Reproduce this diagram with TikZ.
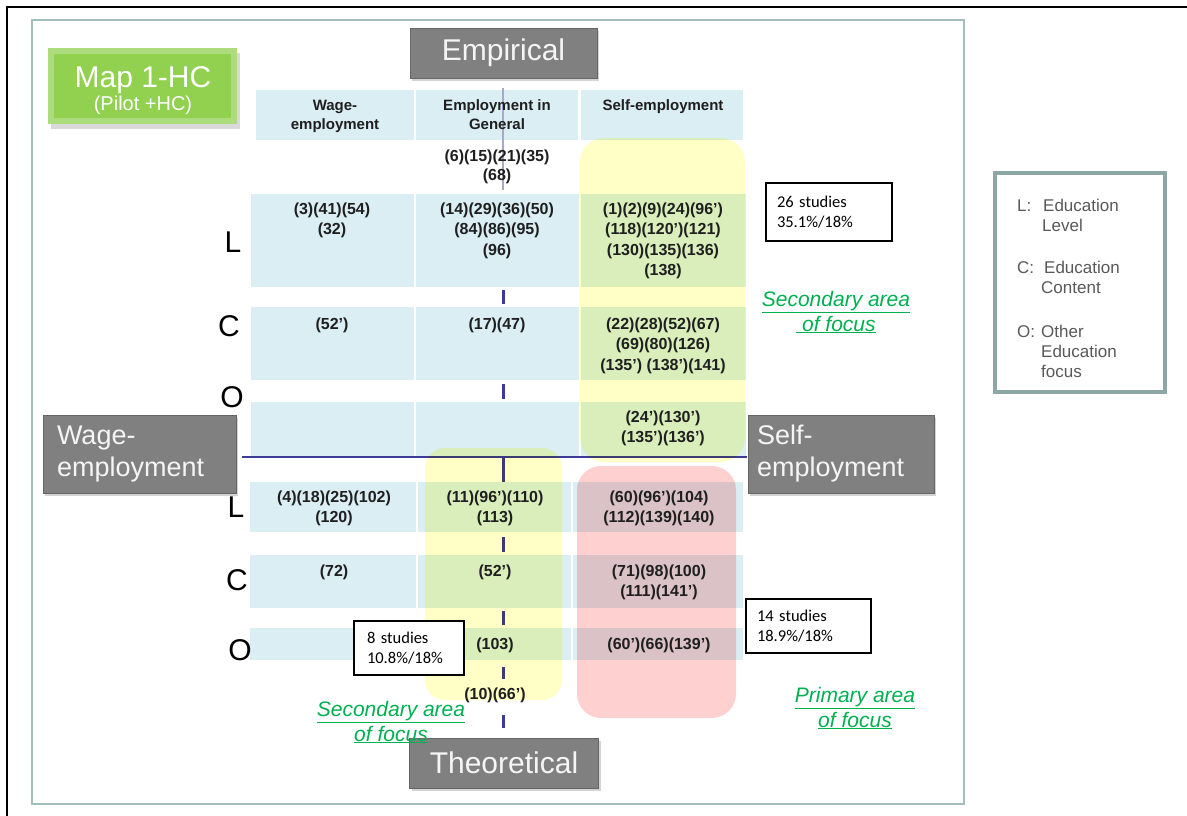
\documentclass[tikz,border=0pt]{standalone}
\usepackage{fontspec}
\setmainfont{Liberation Sans}
\newfontfamily\calib{Carlito}
\usetikzlibrary{shadows}
\definecolor{cellblue}{HTML}{DAEEF3}
\definecolor{yel}{HTML}{FFFFC6}
\definecolor{pinkc}{HTML}{FFD0D0}
\definecolor{boxgray}{HTML}{808080}
\definecolor{focusgreen}{HTML}{00B050}
\definecolor{framec}{HTML}{A3BCBC}
\definecolor{legendc}{HTML}{8CA6A6}
\definecolor{axisc}{HTML}{3C3C96}
\definecolor{mapgreen}{HTML}{92D050}
\definecolor{legtext}{HTML}{595959}
\begin{document}
\begin{tikzpicture}[x=1pt,y=-1pt,
  cell/.style={fill=cellblue},
  dat/.style={font=\fontsize{16}{20.5}\selectfont\bfseries, align=center, anchor=north, inner sep=0, text=black!88},
  hdr/.style={font=\fontsize{15}{19}\selectfont\bfseries, align=center, anchor=north, inner sep=0, text=black!88},
  letter/.style={font=\fontsize{30}{30}\selectfont, inner sep=0},
  graybox/.style={fill=boxgray, draw=boxgray!80!black, line width=0.8pt, text=white!96!black,
    drop shadow={shadow xshift=2pt, shadow yshift=-3pt, opacity=0.35}},
  bigtext/.style={font=\fontsize{30}{32}\selectfont},
  sidetext/.style={font=\fontsize{27}{32}\selectfont, align=left},
  study/.style={draw=black, line width=1.2pt, fill=white, font=\calib\fontsize{16.5}{20.5}\selectfont, align=left, inner ysep=0},
  focus/.style={font=\fontsize{21}{25}\selectfont\itshape, text=focusgreen, align=center, inner sep=0},
  legend/.style={font=\fontsize{17}{20}\selectfont, text=legtext, align=left, anchor=north west, inner sep=0},
  axis/.style={draw=axisc, line width=3pt},
]
\useasboundingbox (0,0) rectangle (1187,816);

% outer and inner frames
\draw[black, line width=2pt] (7,816) -- (7,7) -- (1187,7);
\draw[framec, line width=1.5pt] (32,20) rectangle (964,804);

% table cells, upper half
\fill[cell] (256,90) rectangle (414,140);
\fill[cell] (416,90) rectangle (578,140);
\fill[cell] (581,90) rectangle (743,140);
\foreach \ya/\yb in {194/287, 307/380, 402/456}{
  \fill[cell] (251,\ya) rectangle (414,\yb);
  \fill[cell] (416,\ya) rectangle (579,\yb);
  \fill[cell] (581,\ya) rectangle (746,\yb);
}
% table cells, lower half
\foreach \ya/\yb in {482/532, 555/608, 628/660}{
  \fill[cell] (250,\ya) rectangle (416,\yb);
  \fill[cell] (418,\ya) rectangle (571,\yb);
  \fill[cell] (573,\ya) rectangle (743,\yb);
}

% axes
\draw[axisc!45, line width=2pt] (503,88) -- (503,190);
\draw[axis] (503,290) -- (503,304);
\draw[axis] (503,384) -- (503,399);
\draw[axisc, line width=2pt] (242,457) -- (747,457);
\draw[axis] (503,457) -- (503,482);
\draw[axis] (503,537) -- (503,552);
\draw[axis] (503,611) -- (503,625);
\draw[axis] (503,667) -- (503,679);
\draw[axis] (503,715) -- (503,728);

% highlighted areas
\begin{scope}[blend mode=multiply]
  \fill[yel, rounded corners=24pt] (580,138) rectangle (745,462);
  \fill[yel, rounded corners=20pt] (425,448) rectangle (562,700);
  \fill[pinkc, rounded corners=24pt] (577,466) rectangle (736,718);
\end{scope}

% column headings
\node[hdr] (h1) at (335,99.5) {Wage-\\employment};
\node[hdr] (h2) at (497,99.5) {Employment in\\General};
\node[hdr] (h3) at (663,99.5) {Self-employment};

% row letters
\node[letter] (uL) at (233,242) {L};
\node[letter] (uC) at (229,326) {C};
\node[letter] (uO) at (232,397) {O};
\node[letter] (lL) at (236,507) {L};
\node[letter] (lC) at (237,580) {C};
\node[letter] (lO) at (240,650) {O};

% study numbers
\node[dat, font=\fontsize{16}{19}\selectfont\bfseries] (e0) at (497,149.5) {(6)(15)(21)(35)\\(68)};
\node[dat] (uL1) at (332,202.5) {(3)(41)(54)\\(32)};
\node[dat] (uL2) at (497,202.5) {(14)(29)(36)(50)\\(84)(86)(95)\\(96)};
\node[dat] (uL3) at (663,202.5) {(1)(2)(9)(24)(96’)\\(118)(120’)(121)\\(130)(135)(136)\\(138)};
\node[dat] (uC1) at (332,317.5) {(52’)};
\node[dat] (uC2) at (497,317.5) {(17)(47)};
\node[dat] (uC3) at (663,317.5) {(22)(28)(52)(67)\\(69)(80)(126)\\(135’) (138’)(141)};
\node[dat] (uO3) at (663,410.5) {(24’)(130’)\\(135’)(136’)};
\node[dat] (lL1) at (334,490.5) {(4)(18)(25)(102)\\(120)};
\node[dat] (lL2) at (495,490.5) {(11)(96’)(110)\\(113)};
\node[dat] (lL3) at (659,490.5) {(60)(96’)(104)\\(112)(139)(140)};
\node[dat] (lC1) at (334,564.5) {(72)};
\node[dat] (lC2) at (495,564.5) {(52’)};
\node[dat] (lC3) at (659,564.5) {(71)(98)(100)\\(111)(141’)};
\node[dat] (lO2) at (495,637.5) {(103)};
\node[dat] (lO3) at (659,637.5) {(60’)(66)(139’)};
\node[dat] (th0) at (495,687.5) {(10)(66’)};

% axis end boxes
\node[graybox, bigtext, minimum width=187pt, minimum height=50pt] (emp) at (503.5,53) {Empirical};
\node[graybox, bigtext, minimum width=189pt, minimum height=50pt] (theo) at (504,763) {Theoretical};
\node[graybox, sidetext, minimum width=193pt, minimum height=78pt, inner xsep=14pt, text width=165pt] (wage) at (139.5,454) {Wage-\\employment};
\node[graybox, sidetext, minimum width=186pt, minimum height=78pt, inner xsep=9pt, text width=168pt] (self) at (841,454) {Self-\\employment};

% map title
\node[fill=mapgreen!75!white, minimum width=189pt, minimum height=76pt,
      drop shadow={shadow xshift=3pt, shadow yshift=-5pt, opacity=0.3}] (map) at (142.5,86) {};
\node[fill=mapgreen, minimum width=177pt, minimum height=64pt] (mapin) at (map.center) {};
\node[text=white, font=\fontsize{30}{30}\selectfont, inner sep=0] (mapt) at (143,80) {Map 1-HC};
\node[text=white, font=\fontsize{20}{22}\selectfont, inner sep=0] (maps) at (143,105) {(Pilot +HC)};

% study counts
\node[study, minimum width=126pt, minimum height=58pt, inner xsep=11pt, text width=104pt] (s26) at (829,212) {26 studies\\35.1\%/18\%};
\node[study, minimum width=125pt, minimum height=54pt, inner xsep=11pt, text width=103pt] (s14) at (808.5,626) {14 studies\\18.9\%/18\%};
\node[study, minimum width=110pt, minimum height=54pt, inner xsep=13pt, text width=84pt] (s8) at (409,648) {8 studies\\10.8\%/18\%};

% focus labels
\node[focus] (sec1) at (836,312) {\underline{Secondary area}\\\underline{\ of focus}};
\node[focus] (sec2) at (391,722) {\underline{Secondary area}\\\underline{of focus}};
\node[focus] (prim) at (855,708) {\underline{Primary area}\\\underline{of focus}};

% legend
\draw[legendc, line width=4pt, fill=white] (995,173) rectangle (1165,392);
\node[legend] (lg1) at (1017,199) {\makebox[26pt][l]{L:}Education\\\hspace*{25pt}Level};
\node[legend] (lg2) at (1017,261) {\makebox[27pt][l]{C:}Education\\\hspace*{24pt}Content};
\node[legend] (lg3) at (1017,325) {\makebox[24pt][l]{O:}Other\\\hspace*{24pt}Education\\\hspace*{24pt}focus};
\end{tikzpicture}
\end{document}
